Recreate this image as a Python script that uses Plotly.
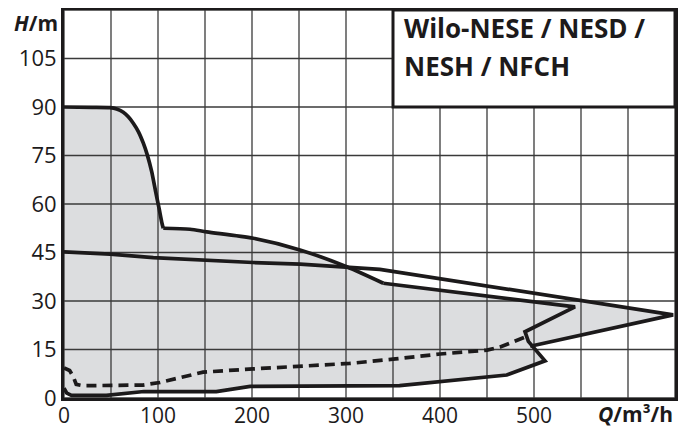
import plotly.graph_objects as go

# ---- data ----
# Upper pump envelope (series A)
a_knee_q = [0, 30, 48.9, 56.0, 63.1, 68.4, 73.7, 79.1, 84.4, 88.6, 93.3, 97.5, 101.1, 103.9, 105.6]
a_knee_h = [90, 89.9, 89.8, 89.4, 88.4, 87.0, 85.0, 82.4, 78.8, 75.2, 70.0, 63.8, 58.7, 54.5, 52.5]
a_mid_q = [105.6, 134, 151.8, 201.4, 251, 300.7, 339.7]
a_mid_h = [52.5, 52.2, 51.4, 49.4, 45.8, 40.6, 35.5]
a_ret_q = [339.7, 543.6, 490.4, 494, 511.7, 471, 357, 198, 162, 85, 45, 8, 3, 0]
a_ret_h = [35.5, 28.2, 20.5, 17.5, 11.5, 7.1, 3.8, 3.6, 2.0, 2.0, 0.8, 0.8, 1.5, 3.0]

# Second envelope (series B): 45 m curve to max flow tip, then back down
b_q = [0, 49, 95, 152, 201, 251, 300.7, 336, 648, 496]
b_h = [45.2, 44.5, 43.4, 42.5, 41.9, 41.4, 40.6, 39.8, 25.7, 16.0]

# Dashed lower boundary of series B
d_q = [0, 6, 10, 13, 20, 84, 102, 148, 201, 269, 304, 350, 400, 450, 464, 492]
d_h = [9.3, 8.5, 6.5, 4.2, 3.8, 4.0, 4.8, 8.0, 9.0, 10.2, 10.7, 12.0, 13.6, 14.8, 15.8, 19.0]

# Filled area outline (union of operating fields)
f_q = [0] + a_knee_q + a_mid_q[1:] + [493.3, 552.8, 648, 496, 511.7, 471, 357, 198, 162, 85, 45, 8, 3, 0]
f_h = [3] + a_knee_h + a_mid_h[1:] + [30, 30, 25.7, 16.0, 11.5, 7.1, 3.8, 3.6, 2.0, 2.0, 0.8, 0.8, 1.5, 3.0]

x_grid = list(range(0, 651, 50))
y_grid = list(range(0, 121, 15))
x_tick_vals = [0, 100, 200, 300, 400, 500]
x_tick_text = ["0", "100", "200", "300", "400", "500"]
y_tick_vals = [0, 15, 30, 45, 60, 75, 90, 105]
y_tick_text = ["0", "15", "30", "45", "60", "75", "90", "105"]

X_MAX, Y_MAX = 650, 120
INK = "#1c1a1b"
FONT = "Open Sans"
LW = 3.7

fig = go.Figure()

# fill
fig.add_trace(go.Scatter(x=f_q, y=f_h, mode="lines", fill="toself",
                         fillcolor="#dcdddf", line=dict(width=0), hoverinfo="skip"))

# grid lines drawn above the fill
gx, gy = [], []
for v in x_grid:
    gx += [v, v, None]
    gy += [0, Y_MAX, None]
for v in y_grid:
    gx += [0, X_MAX, None]
    gy += [v, v, None]
fig.add_trace(go.Scatter(x=gx, y=gy, mode="lines", line=dict(color="#3a3a3a", width=1.3),
                         hoverinfo="skip"))

# curves
fig.add_trace(go.Scatter(x=a_knee_q, y=a_knee_h, mode="lines",
                         line=dict(color=INK, width=LW, shape="spline", smoothing=0.6)))
fig.add_trace(go.Scatter(x=a_mid_q, y=a_mid_h, mode="lines",
                         line=dict(color=INK, width=LW, shape="spline", smoothing=0.8)))
fig.add_trace(go.Scatter(x=a_ret_q, y=a_ret_h, mode="lines",
                         line=dict(color=INK, width=LW)))
fig.add_trace(go.Scatter(x=b_q, y=b_h, mode="lines",
                         line=dict(color=INK, width=LW)))
fig.add_trace(go.Scatter(x=d_q, y=d_h, mode="lines",
                         line=dict(color=INK, width=LW, dash="10px,6px")))

# title box
fig.add_shape(type="rect", x0=350, x1=X_MAX, y0=90, y1=Y_MAX, xref="x", yref="y",
              fillcolor="white", line=dict(color=INK, width=3), layer="above")
fig.add_annotation(x=360, y=114.4, xref="x", yref="y", xanchor="left", yanchor="middle",
                   text="<b>Wilo-NESE / NESD /</b>", showarrow=False,
                   font=dict(family=FONT, size=26, color=INK))
fig.add_annotation(x=360, y=102.6, xref="x", yref="y", xanchor="left", yanchor="middle",
                   text="<b>NESH / NFCH</b>", showarrow=False,
                   font=dict(family=FONT, size=26, color=INK))

# The page body has an 8px margin: the figure is drawn 8px smaller and
# its plot area shifted so that it lands where the reference has it.
OFF = 8
W, H = 691 - OFF, 430 - OFF
PL, PT, PR, PB = 64 - OFF, 10 - OFF, 675 - OFF, 398 - OFF  # plot box in figure px
pw, ph = PR - PL, PB - PT

# axis titles
fig.add_annotation(x=(36 - 64) / pw, y=(398 - 23) / ph, xref="paper", yref="paper",
                   xanchor="center", yanchor="middle",
                   text="<b><i>H</i>/m</b>", showarrow=False,
                   font=dict(family=FONT, size=21, color=INK))
fig.add_annotation(x=X_MAX, y=(398 - 414) / ph, xref="x", yref="paper",
                   xanchor="right", yanchor="middle",
                   text="<b><i>Q</i>/m³/h</b>", showarrow=False,
                   font=dict(family=FONT, size=21, color=INK))

fig.update_layout(
    width=W, height=H,
    margin=dict(l=PL, r=W - PR, t=PT, b=H - PB, autoexpand=False),
    paper_bgcolor="white", plot_bgcolor="white",
    showlegend=False,
    font=dict(family=FONT, size=22, color=INK),
    xaxis=dict(range=[0, X_MAX], showgrid=False, zeroline=False, automargin=False,
               tickvals=x_tick_vals, ticktext=x_tick_text, ticks="",
               tickfont=dict(size=21), ticklabelstandoff=-3,
               showline=True, mirror=True, linecolor=INK, linewidth=3,
               layer="above traces"),
    yaxis=dict(range=[0, Y_MAX], showgrid=False, zeroline=False, automargin=False,
               tickvals=y_tick_vals, ticktext=y_tick_text, ticks="",
               showline=True, mirror=True, linecolor=INK, linewidth=3,
               layer="above traces"),
)

fig.write_html("out.html")
